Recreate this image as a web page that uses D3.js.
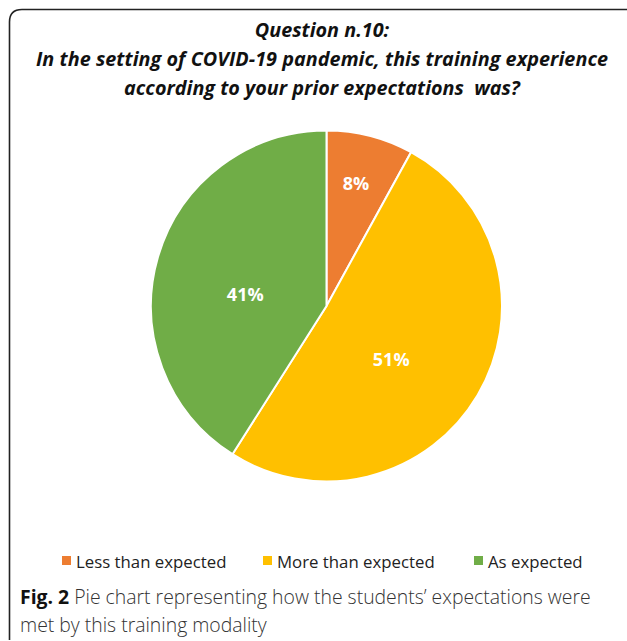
<!DOCTYPE html>
<html><head><meta charset="utf-8">
<script src="https://cdn.jsdelivr.net/npm/d3@7/dist/d3.min.js"></script>
<style>body{margin:0;background:#fff}svg{display:block}</style>
</head><body>
<script>
const categories = ["Less than expected", "More than expected", "As expected"];
const values = [8, 51, 41];
const colors = ["#ED7D31", "#FFC000", "#70AD47"];
const titleLines = ["Question n.10:", "In the setting of COVID-19 pandemic, this training experience", "according to your prior expectations\u00a0 was?"];

const W = 627, H = 641;
const svg = d3.select("body").append("svg").attr("width", W).attr("height", H);

// border (top and left, rounded corner)
svg.append("path")
  .attr("d", "M9.5,640 L9.5,22 Q9.5,9.5 22,9.5 L627,9.5")
  .attr("fill", "none").attr("stroke", "#222").attr("stroke-width", 1.6);

// title
svg.append("g").selectAll("text").data(titleLines).join("text")
  .attr("x", 322).attr("y", (d, i) => 37 + i * 29)
  .attr("text-anchor", "middle")
  .attr("font-family", "'Open Sans', sans-serif")
  .attr("font-style", "italic").attr("font-weight", 700)
  .attr("font-size", 19.8).attr("fill", "#111")
  .attr("textLength", (d, i) => i === 1 ? 572 : null)
  .text(d => d);

// pie
const cx = 326.5, cy = 306, R = 175.5;
const pie = d3.pie().sort(null).value(d => d);
const arcs = pie(values);
const arc = d3.arc().innerRadius(0).outerRadius(R);
const g = svg.append("g").attr("transform", `translate(${cx},${cy})`);
g.selectAll("path").data(arcs).join("path")
  .attr("d", arc).attr("fill", (d, i) => colors[i])
  .attr("stroke", "#fff").attr("stroke-width", 2);

// label placement (Excel "best fit" style): radius and angle nudge per slice
const labelR = [126, 84, 82];
const labelShift = [-0.9, 9, -8.5]; // degrees
g.selectAll("text").data(arcs).join("text")
  .attr("transform", (d, i) => {
    const a = (d.startAngle + d.endAngle) / 2 + labelShift[i] * Math.PI / 180;
    return `translate(${Math.sin(a) * labelR[i]},${-Math.cos(a) * labelR[i]})`;
  })
  .attr("text-anchor", "middle").attr("dy", "0.35em")
  .attr("font-family", "'Open Sans', sans-serif").attr("font-weight", 700)
  .attr("font-size", 18).attr("fill", "#fff")
  .text(d => d.data + "%");

// legend
const legX = [62, 263, 474];
const lg = svg.append("g");
categories.forEach((c, i) => {
  lg.append("rect").attr("x", legX[i]).attr("y", 556).attr("width", 9).attr("height", 9).attr("fill", colors[i]);
  lg.append("text").attr("x", legX[i] + 14).attr("y", 567.5)
    .attr("font-family", "'Open Sans', sans-serif").attr("font-size", 16.8).attr("fill", "#222")
    .text(c);
});

// caption
const cap = svg.append("text").attr("x", 20).attr("y", 604)
  .attr("font-family", "'Open Sans', sans-serif").attr("font-size", 19.4).attr("fill", "#333");
cap.append("tspan").attr("font-weight", 700).attr("fill", "#111").text("Fig. 2");
cap.append("tspan").attr("font-weight", 300).text(" Pie chart representing how the students\u2019 expectations were");
svg.append("text").attr("x", 20).attr("y", 632)
  .attr("font-family", "'Open Sans', sans-serif").attr("font-size", 19.4).attr("fill", "#333").attr("font-weight", 300)
  .text("met by this training modality");
</script>
</body></html>
